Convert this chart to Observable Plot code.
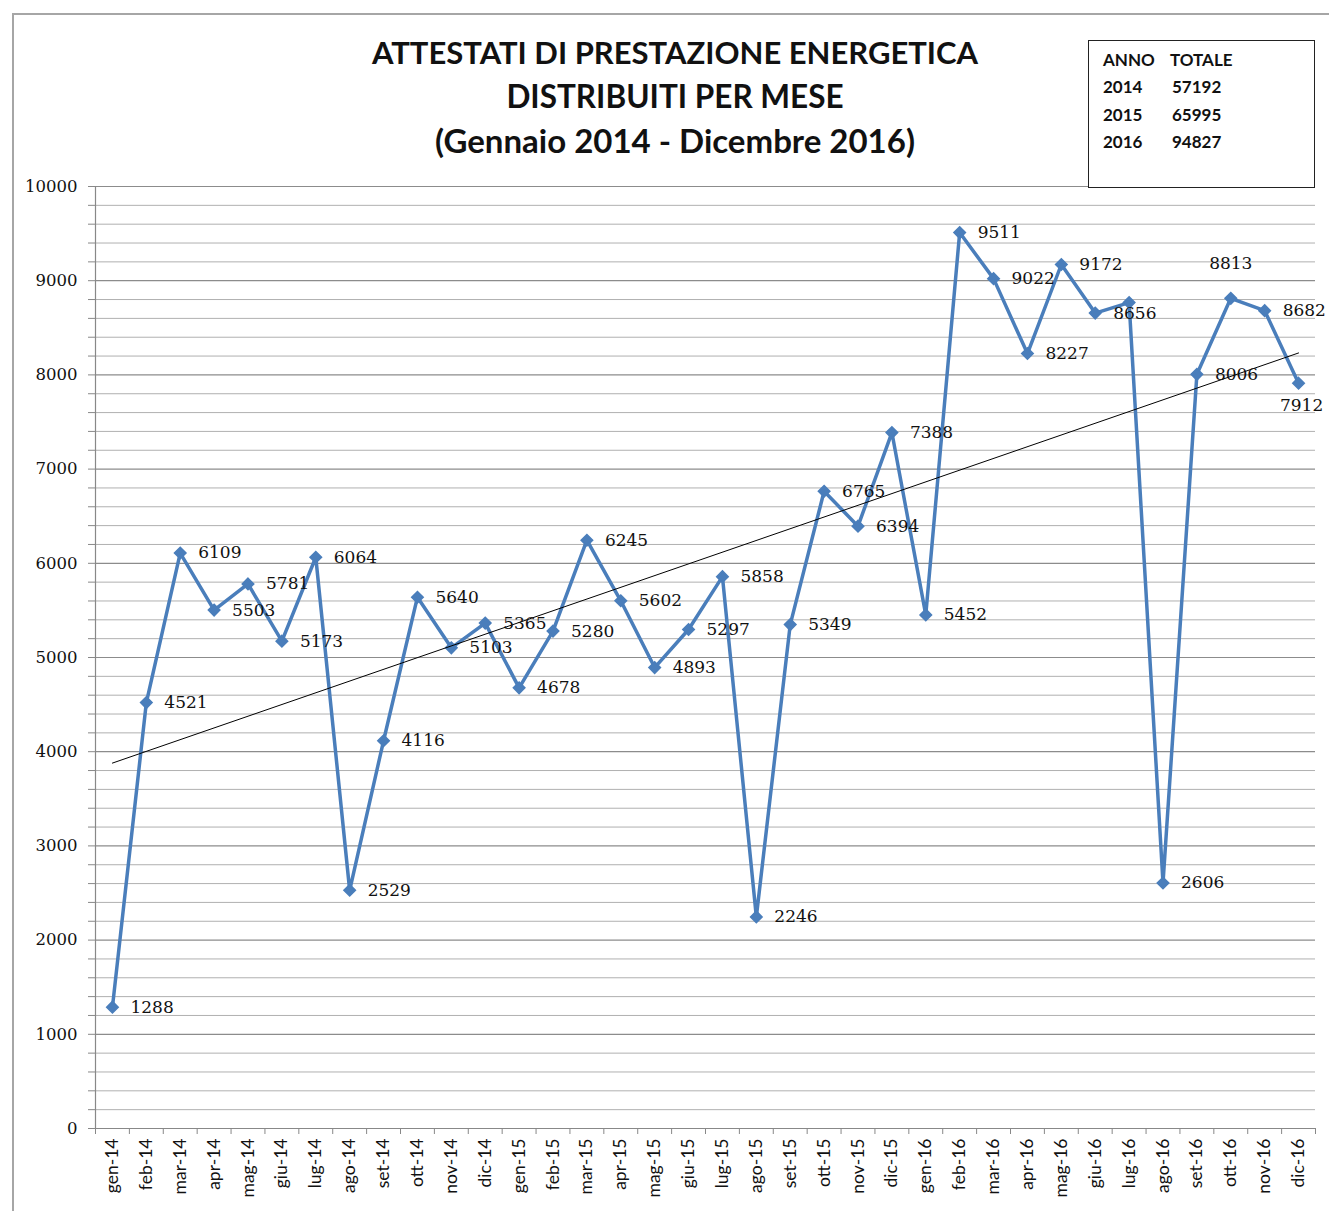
<!DOCTYPE html>
<html>
<head>
<meta charset="utf-8">
<script src="https://cdn.jsdelivr.net/npm/d3@7"></script>
<script src="https://cdn.jsdelivr.net/npm/@observablehq/plot@0.6"></script>
<style>
  html, body { margin: 0; padding: 0; background: #fff; }
  #page { position: relative; width: 1329px; height: 1211px; overflow: hidden; background: #fff; }
  #frame { position: absolute; left: 12px; top: 13px; width: 1400px; height: 1300px; border: 2px solid #a6a6a6; box-sizing: border-box; }
  #title { position: absolute; left: 175px; width: 1000px; top: 30px; text-align: center; font-family: Lato, "Open Sans", sans-serif; font-weight: bold; color: #111; }
  #title div { line-height: 44px; white-space: nowrap; }
  #title .l1 { font-size: 31px; }
  #title .l2 { font-size: 31.5px; }
  #title .l3 { font-size: 33px; }
  #legend { position: absolute; left: 1088px; top: 40px; width: 227px; height: 148px; border: 1.5px solid #222; box-sizing: border-box; background: #fff; z-index: 2; font-family: Lato, sans-serif; font-weight: bold; font-size: 17px; color: #111; }
  #legend .row { position: absolute; left: 14px; }
  #legend .row span { position: absolute; white-space: nowrap; }
  #chart { position: absolute; left: 0; top: 170px; z-index: 1; }
</style>
</head>
<body>
<div id="page">
  <div id="frame"></div>
  <div id="title">
    <div class="l1">ATTESTATI DI PRESTAZIONE ENERGETICA</div>
    <div class="l2">DISTRIBUITI PER MESE</div>
    <div class="l3">(Gennaio 2014 - Dicembre 2016)</div>
  </div>
  <div id="legend"></div>
  <div id="chart"></div>
</div>
<script>
// ---- data ----
const months = ["gen-14","feb-14","mar-14","apr-14","mag-14","giu-14","lug-14","ago-14","set-14","ott-14","nov-14","dic-14",
                "gen-15","feb-15","mar-15","apr-15","mag-15","giu-15","lug-15","ago-15","set-15","ott-15","nov-15","dic-15",
                "gen-16","feb-16","mar-16","apr-16","mag-16","giu-16","lug-16","ago-16","set-16","ott-16","nov-16","dic-16"];
const values = [1288,4521,6109,5503,5781,5173,6064,2529,4116,5640,5103,5365,
                4678,5280,6245,5602,4893,5297,5858,2246,5349,6765,6394,7388,
                5452,9511,9022,8227,9172,8656,8768,2606,8006,8813,8682,7912];
const years = ["2014","2015","2016"];
const totals = [57192,65995,94827];
const yTicks = d3.range(0, 10001, 1000);
const yMinor = d3.range(0, 10001, 200).filter(v => v % 1000 !== 0);

// ---- legend ----
const legend = document.getElementById("legend");
const rowsText = [["ANNO","TOTALE"]].concat(years.map((y,i)=>[y,String(totals[i])]));
rowsText.forEach((r,k) => {
  const row = document.createElement("div");
  row.className = "row";
  row.style.top = (8 + k*27.3) + "px";
  const a = document.createElement("span"); a.textContent = r[0]; a.style.left = "0px";
  const b = document.createElement("span"); b.textContent = r[1]; b.style.left = (k===0 ? 67 : 69) + "px";
  row.appendChild(a); row.appendChild(b);
  legend.appendChild(row);
});

// ---- chart ----
const data = months.map((m,i) => ({i: i+1, m, v: values[i]}));
const normal = data.filter(d => d.m !== "ott-16" && d.m !== "dic-16" && d.m !== "lug-16");
const above = data.filter(d => d.m === "ott-16");
const below = data.filter(d => d.m === "dic-16");
const blue = "#4a7ebb";
const serif = "'DejaVu Serif', serif";

const chart = Plot.plot({
  width: 1329,
  height: 1041,
  marginLeft: 95,
  marginRight: 14,
  marginTop: 16,
  marginBottom: 83,
  style: {background: "transparent", overflow: "visible", fontFamily: serif, fontSize: "16px", color: "#111"},
  x: {domain: [0.5, 36.5], axis: null},
  y: {domain: [0, 10000], axis: null},
  marks: [
    Plot.ruleY(yMinor, {stroke: "#b0b0b0", strokeWidth: 1}),
    Plot.ruleY(yTicks.filter(v => v > 0), {stroke: "#8c8c8c", strokeWidth: 1.2}),
    Plot.axisY({ticks: yMinor, tickSize: 7, text: null, label: null, stroke: "#888"}),
    Plot.axisY({ticks: yTicks, tickSize: 7, tickPadding: 11, label: null, stroke: "#888", fill: "#111", fontSize: 16.5, fontFamily: serif, tickFormat: d => String(d)}),
    Plot.ruleX([0.5], {stroke: "#888", strokeWidth: 1.2}),
    Plot.ruleY([0], {stroke: "#888", strokeWidth: 1.2}),
    Plot.axisX({ticks: d3.range(0.5, 37, 1), tickSize: 6, text: null, label: null, stroke: "#888"}),
    Plot.axisX({ticks: d3.range(1, 37), tickSize: 0, tickPadding: 10, tickRotate: -90, label: null,
                tickFormat: i => months[i-1], fill: "#111", fontSize: 17.5, fontFamily: "Lato, sans-serif"}),
    Plot.line(data, {x: "i", y: "v", stroke: blue, strokeWidth: 3.5, strokeLinejoin: "miter"}),
    Plot.dot(data, {x: "i", y: "v", symbol: "diamond2", fill: blue, stroke: blue, r: 5.2}),
    Plot.linearRegressionY(data, {x: "i", y: "v", stroke: "#000", strokeWidth: 1, ci: 0}),
    Plot.text(normal, {x: "i", y: "v", text: d => String(d.v), dx: 18, textAnchor: "start", fill: "#111", fontSize: 17, fontFamily: serif}),
    Plot.text(above, {x: "i", y: "v", text: d => String(d.v), dy: -35, textAnchor: "middle", fill: "#111", fontSize: 17, fontFamily: serif}),
    Plot.text(below, {x: "i", y: "v", text: d => String(d.v), dy: 22, dx: 3, textAnchor: "middle", fill: "#111", fontSize: 17, fontFamily: serif})
  ]
});
document.getElementById("chart").appendChild(chart);
</script>
</body>
</html>
